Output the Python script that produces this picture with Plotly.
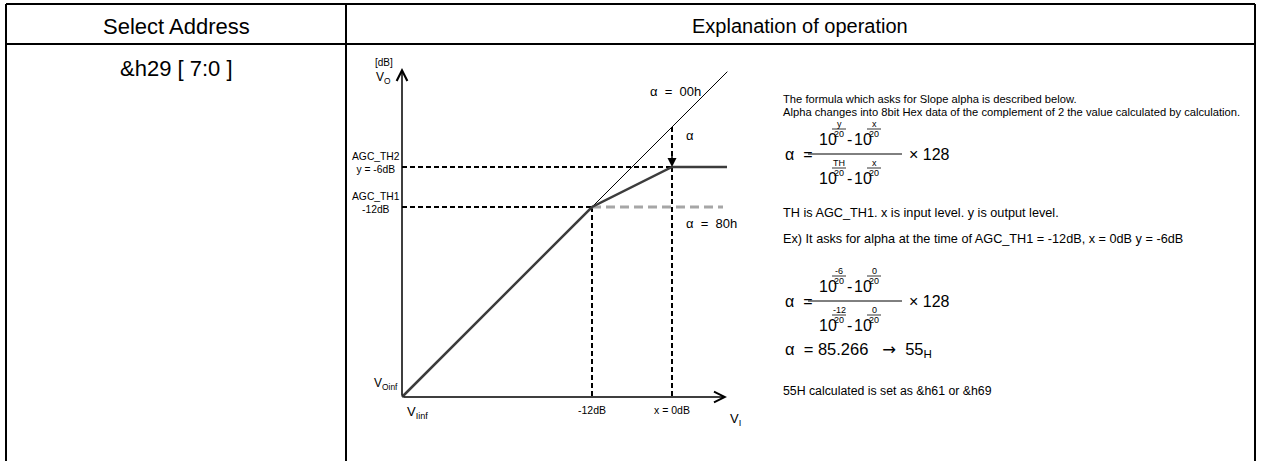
import plotly.graph_objects as go

W, H = 1261, 461
FONT = "Arial, Liberation Sans, sans-serif"

# levels in dB used by the diagram
v_inf = -40.5        # V_Iinf / V_Oinf corner
agc_th1 = -12
agc_th2 = -6
x_in = 0
x_tip = 8.25
y_tip = 8.85
diag_end = 8.3
flat_end = 8.25
grey_end = 7.65

x_ticks = [agc_th1, x_in]
x_tick_text = ["-12dB", "x = 0dB"]
y_ticks = [agc_th2, agc_th1]
y_tick_text = ["AGC_TH2<br>y = -6dB", "AGC_TH1<br>-12dB"]

headers = ["Select Address", "Explanation of operation"]
address = "&h29 [ 7:0 ]"
intro = ["The formula which asks for Slope alpha is described below.",
         "Alpha changes into 8bit Hex data of the complement of 2 the value calculated by calculation."]
th_note = "TH is AGC_TH1. x is input level. y is output level."
ex_note = "Ex) It asks for alpha at the time of AGC_TH1 = -12dB, x = 0dB y = -6dB"
result = ("α  = 85.266   <span style='font-family:DejaVu Sans'>→</span>  "
          "55<sub>H</sub>")
final_note = "55H calculated is set as &h61 or &h69"
exps_general = [["y", "x"], ["TH", "x"]]
exps_example = [["-6", "0"], ["-12", "0"]]

annotations = []
shapes = []


def px(x):
    return x / W


def py(y):
    return 1 - y / H


def label(text, x, y, size, anchor="left"):
    annotations.append(dict(text=text, x=px(x), y=py(y), xref="paper", yref="paper",
                            xanchor=anchor, yanchor="middle", showarrow=False,
                            font=dict(size=size, color="black", family=FONT)))


def hline(x0, x1, y, width=1):
    shapes.append(dict(type="line", xref="paper", yref="paper", x0=px(x0), x1=px(x1),
                       y0=py(y), y1=py(y), line=dict(color="black", width=width)))


def vline(x, y0, y1, width=2):
    shapes.append(dict(type="line", xref="paper", yref="paper", x0=px(x), x1=px(x),
                       y0=py(y0), y1=py(y1), line=dict(color="black", width=width)))


def power10(x_left, y, exp_top):
    label("10", x_left, y, 16)
    xc = x_left + 22
    label(exp_top, xc, y - 15, 9, "center")
    hline(xc - 7, xc + 7, y - 10, 0.8)
    label("20", xc, y - 5, 9, "center")


def formula(bar_y, exps):
    label("α  =", 783, bar_y, 16)
    hline(808, 902, bar_y, 1)
    label("× 128", 907, bar_y, 16)
    for row, yy in zip(exps, [bar_y - 15, bar_y + 24]):
        power10(817, yy, row[0])
        label("-", 849, yy, 16, "center")
        power10(852, yy, row[1])


# table frame
hline(6, 1255, 4, 2)
hline(6, 1255, 44, 2)
vline(6, 4, 461)
vline(346, 4, 461)
vline(1255, 4, 461)

label(headers[0], 176, 26, 22, "center")
label(headers[1], 800, 26, 20, "center")
label(address, 176, 68, 22, "center")

# right-hand explanation
label(intro[0], 781, 99, 11.2)
label(intro[1], 781, 112, 11.2)
formula(154, exps_general)
label(th_note, 781, 213, 12.7)
label(ex_note, 781, 239, 12.7)
formula(301, exps_example)
label(result, 783, 350, 16.5)
label(final_note, 781, 391, 12.3)

# diagram labels
label("[dB]", 384, 62, 10, "center")
label("V<sub>O</sub>", 384, 78, 12, "center")
label("α  =  00h", 703, 91, 13, "right")
label("α", 684, 135, 13)
label("α  =  80h", 684, 223, 13)
label("V<sub>Oinf</sub>", 400, 384, 12, "right")
label("V<sub>Iinf</sub>", 405, 412, 13)
label("V<sub>I</sub>", 728, 419, 13)

for v, t in zip(x_ticks, x_tick_text):
    annotations.append(dict(text=t, x=v, y=v_inf, xref="x", yref="y", yshift=-13,
                            showarrow=False, xanchor="center", yanchor="middle",
                            font=dict(size=10.5, color="black", family=FONT)))
for v, t in zip(y_ticks, y_tick_text):
    annotations.append(dict(text=t, x=v_inf, y=v, xref="x", yref="y", xshift=0, yshift=4,
                            showarrow=False, xanchor="right", yanchor="middle", align="center",
                            font=dict(size=10.3, color="black", family=FONT)))

# axis arrows
annotations.append(dict(x=x_tip, y=v_inf, ax=v_inf, ay=v_inf, xref="x", yref="y",
                        axref="x", ayref="y", text="", showarrow=True, arrowhead=5,
                        arrowsize=1.4, arrowwidth=1.5, arrowcolor="black"))
annotations.append(dict(x=v_inf, y=y_tip, ax=v_inf, ay=v_inf, xref="x", yref="y",
                        axref="x", ayref="y", text="", showarrow=True, arrowhead=5,
                        arrowsize=1.4, arrowwidth=1.5, arrowcolor="black"))
# alpha arrow head
annotations.append(dict(x=x_in, y=agc_th2, ax=0, ay=-14, xref="x", yref="y", text="",
                        showarrow=True, arrowhead=2, arrowsize=1.2, arrowwidth=1.5,
                        arrowcolor="black", standoff=0))

fig = go.Figure()
dash_x = [v_inf, x_in, None, v_inf, agc_th1, None, agc_th1, agc_th1, None, x_in, x_in]
dash_y = [agc_th2, agc_th2, None, agc_th1, agc_th1, None, agc_th1, v_inf, None, x_in, v_inf]
fig.add_trace(go.Scatter(x=dash_x, y=dash_y, mode="lines",
                         line=dict(color="black", width=2, dash="5px,3px")))
fig.add_trace(go.Scatter(x=[agc_th1, grey_end], y=[agc_th1, agc_th1], mode="lines",
                         line=dict(color="#a6a6a6", width=3, dash="9px,5px")))
fig.add_trace(go.Scatter(x=[v_inf, diag_end], y=[v_inf, diag_end], mode="lines",
                         line=dict(color="black", width=1)))
fig.add_trace(go.Scatter(x=[v_inf, agc_th1, x_in, flat_end],
                         y=[v_inf, agc_th1, agc_th2, agc_th2], mode="lines",
                         line=dict(color="#3c3c3c", width=2.5)))

fig.update_layout(
    width=W, height=H, margin=dict(l=0, r=0, t=0, b=0),
    paper_bgcolor="white", plot_bgcolor="white", showlegend=False,
    xaxis=dict(domain=[px(380), px(760)], range=[-43.8, 13.2], visible=False, fixedrange=True),
    yaxis=dict(domain=[py(430), py(45)], range=[-45.45, 12.3], visible=False, fixedrange=True),
    annotations=annotations, shapes=shapes,
)

fig.write_html("out.html", config={"displayModeBar": False},
               post_script="document.body.style.margin='0';")
